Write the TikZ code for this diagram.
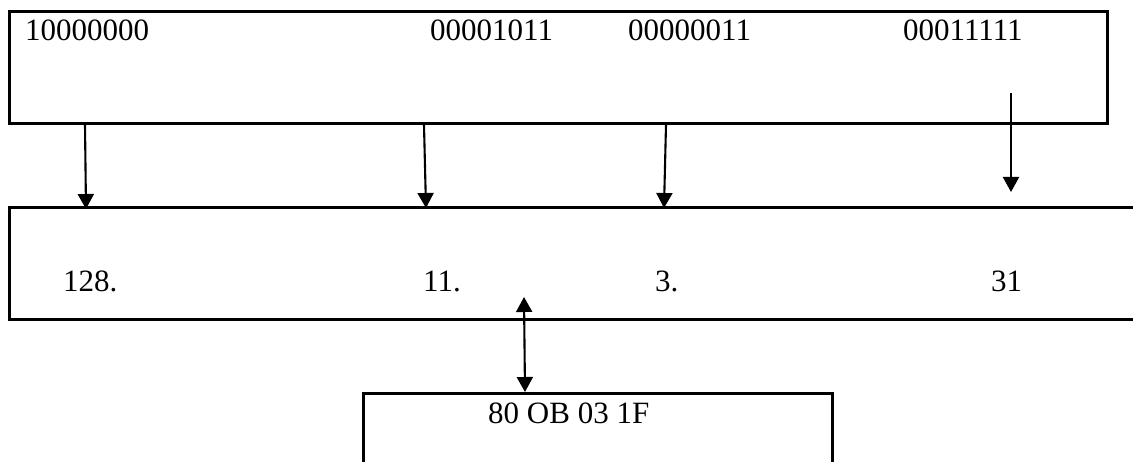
\documentclass[tikz,border=0pt]{standalone}
\usepackage{fontspec}
\setmainfont{Liberation Serif}
\usetikzlibrary{arrows.meta}
\begin{document}
\begin{tikzpicture}[x=1pt,y=-1pt,
  box/.style={draw, line width=2.6pt, anchor=north west, inner sep=0pt},
  lbl/.style={anchor=base west, inner sep=0pt, font=\fontsize{31}{36}\selectfont},
  tip/.tip={Triangle[length=15pt,width=16pt]},
  arr/.style={line width=2.1pt, -tip},
  darr/.style={line width=2.1pt, tip-tip}]
\useasboundingbox (0,0) rectangle (1133,462);
% boxes
\node[box, minimum width=1098pt, minimum height=112pt] (topbox) at (8,10) {};
\node[box, minimum width=1150pt, minimum height=112pt] (midbox) at (8,206) {};
\node[box, minimum width=469pt, minimum height=120pt] (botbox) at (362,392) {};
% top texts
\node[lbl] (t1) at (25,41) {10000000};
\node[lbl] (t2) at (430,41) {00001011};
\node[lbl] (t3) at (628,41) {00000011};
\node[lbl] (t4) at (903,41) {00011111};
% middle texts
\node[lbl] (m1) at (63,292) {128.};
\node[lbl] (m2) at (423,292) {11.};
\node[lbl] (m3) at (655,292) {3.};
\node[lbl] (m4) at (991,292) {31};
% bottom text
\node[lbl] (b1) at (488,423) {80 OB 03 1F};
% arrow end points
\coordinate (a1s) at (85,125);  \coordinate (a1e) at (86,209);
\coordinate (a2s) at (424,125); \coordinate (a2e) at (426,208);
\coordinate (a3s) at (666,125); \coordinate (a3e) at (664,208);
\coordinate (a4s) at (1011,93); \coordinate (a4e) at (1011,192);
\coordinate (ds) at (524,297);  \coordinate (de) at (525,392);
\draw[arr] (a1s) -- (a1e);
\draw[arr] (a2s) -- (a2e);
\draw[arr] (a3s) -- (a3e);
\draw[arr] (a4s) -- (a4e);
\draw[darr] (ds) -- (de);
\end{tikzpicture}
\end{document}
